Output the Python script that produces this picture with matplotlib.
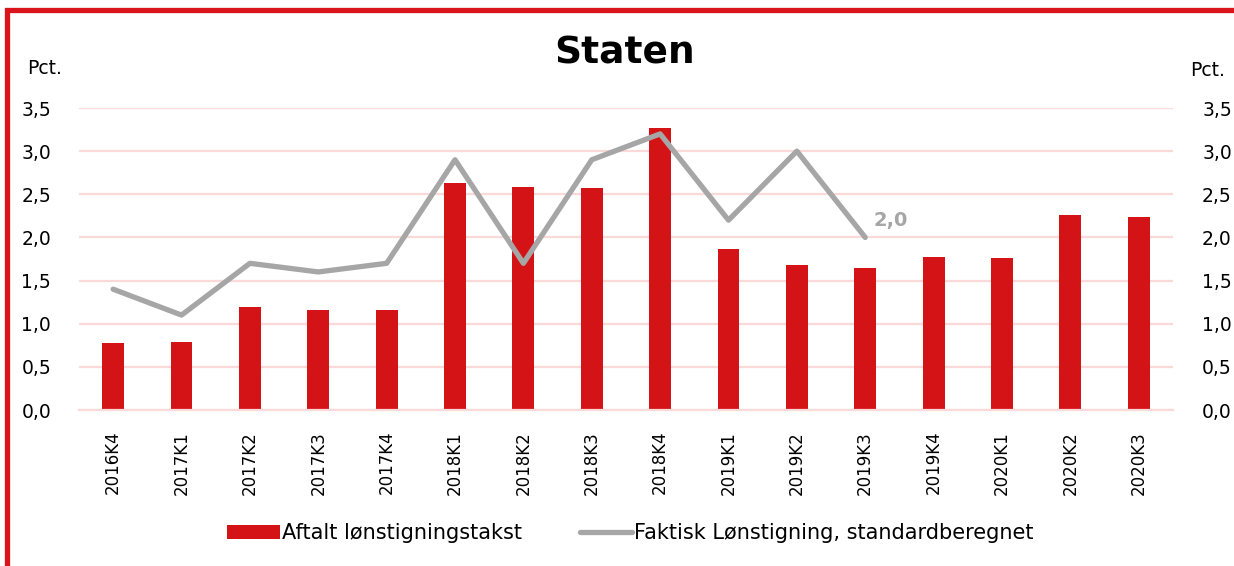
import numpy as np
import matplotlib
matplotlib.use("Agg")
import matplotlib.pyplot as plt
from matplotlib.patches import Rectangle
from matplotlib.ticker import FuncFormatter

quarters = ["2016K4", "2017K1", "2017K2", "2017K3", "2017K4", "2018K1", "2018K2",
            "2018K3", "2018K4", "2019K1", "2019K2", "2019K3", "2019K4", "2020K1",
            "2020K2", "2020K3"]
aftalt = [0.78, 0.79, 1.19, 1.16, 1.16, 2.63, 2.58, 2.57, 3.27, 1.87, 1.68, 1.65,
          1.77, 1.76, 2.26, 2.24]
faktisk = [1.4, 1.1, 1.7, 1.6, 1.7, 2.9, 1.7, 2.9, 3.2, 2.2, 3.0, 2.0,
           np.nan, np.nan, np.nan, np.nan]
yticks = [0.0, 0.5, 1.0, 1.5, 2.0, 2.5, 3.0, 3.5]

red = "#d41317"
grey = "#a6a6a6"
gridc = "#fad9d9"

plt.rcParams['font.family'] = ['DejaVu Sans']

fig = plt.figure(figsize=(12.34, 5.66), dpi=100)
ax = fig.add_axes([0.064, 1 - 410 / 566, 0.8865, (410 - 108) / 566])

x = np.arange(len(quarters))
bars = ax.bar(x, aftalt, width=0.32, color=red, zorder=2)
line, = ax.plot(x, faktisk, color=grey, lw=3.8, zorder=3, solid_capstyle="round")

# label on last point of the line
last = np.where(~np.isnan(faktisk))[0][-1]
ax.annotate(f"{faktisk[last]:.1f}".replace(".", ","), (x[last], faktisk[last]),
            xytext=(6, 12), textcoords="offset points", fontsize=14,
            fontweight="bold", color=grey, ha="left", va="center")

ax.set_xlim(-0.5, len(quarters) - 0.5)
ax.set_ylim(0, 3.5)
ax.set_yticks(yticks)
fmt = FuncFormatter(lambda v, p: f"{v:.1f}".replace(".", ","))
ax.yaxis.set_major_formatter(fmt)
ax.set_xticks(x)
ax.set_xticklabels(quarters, rotation=90, fontsize=12)
ax.tick_params(axis="x", length=0, pad=15)
ax.tick_params(axis="y", length=0, pad=20, labelsize=13.5)
ax.grid(axis="y", color=gridc, lw=1.6, zorder=0)
ax.set_axisbelow(True)
for s in ax.spines.values():
    s.set_visible(False)
ax.spines["bottom"].set_visible(True)
ax.spines["bottom"].set_color(gridc)
ax.spines["bottom"].set_linewidth(1.6)

ax2 = ax.twinx()
ax2.set_ylim(0, 3.5)
ax2.set_yticks(yticks)
ax2.yaxis.set_major_formatter(fmt)
ax2.tick_params(axis="y", length=0, pad=21, labelsize=13.5)
for s in ax2.spines.values():
    s.set_visible(False)

fig.text(27 / 1234, 1 - 68 / 566, "Pct.", fontsize=13.5, va="center", ha="left")
fig.text(1225 / 1234, 1 - 70 / 566, "Pct.", fontsize=13.5, va="center", ha="right")
fig.text(625 / 1234, 1 - 54 / 566, "Staten", fontsize=27, fontweight="bold",
         ha="center", va="center")

fig.legend([bars, line],
           ["Aftalt lønstigningstakst", "Faktisk Lønstigning, standardberegnet"],
           loc="center", bbox_to_anchor=(0.511, 1 - 533 / 566), ncol=2,
           frameon=False, fontsize=15, handlelength=2.5, handleheight=0.65,
           handletextpad=0.1, columnspacing=2.8)

# red frame around the chart (cropped at right and bottom)
fig.patches.append(Rectangle((7 / 1234, -0.05), 1.1, 1 - 10 / 566 + 0.05,
                             transform=fig.transFigure, fill=False,
                             edgecolor="#d9141a", lw=3.8, clip_on=False))

fig.savefig("out.png", dpi=100)
